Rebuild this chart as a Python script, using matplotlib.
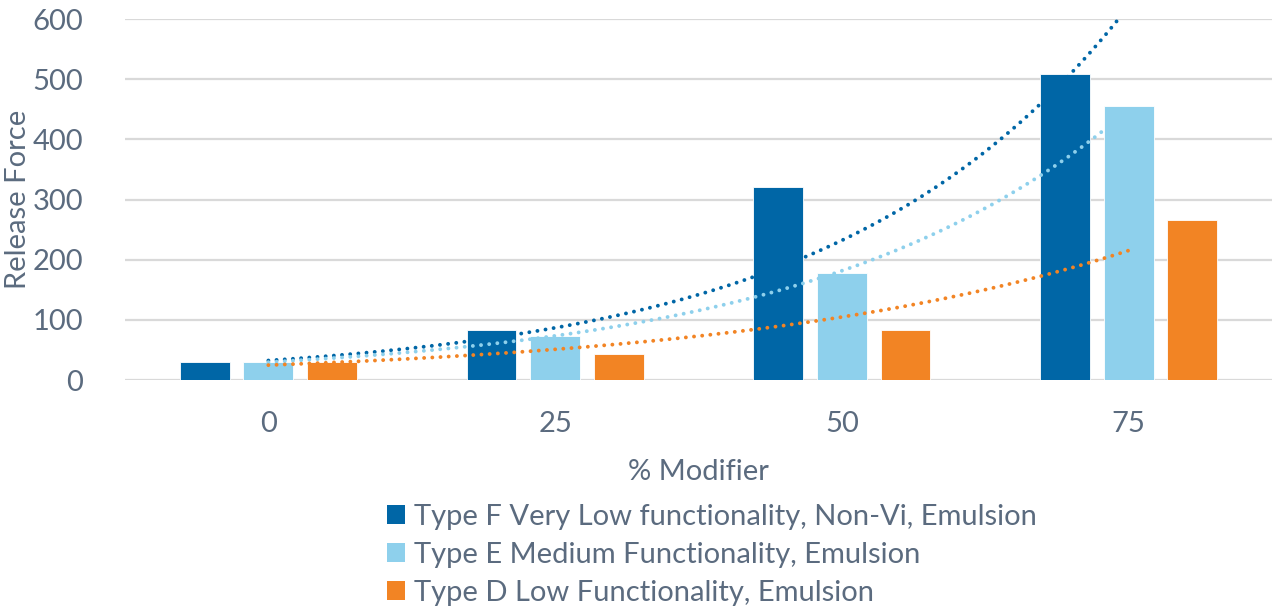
import numpy as np
import matplotlib
matplotlib.use('Agg')
import matplotlib.pyplot as plt
from matplotlib.patches import Patch

# % modifier levels and measured release force per emulsion type
modifier = ['0', '25', '50', '75']
type_f = [30, 83, 320, 509]
type_e = [30, 73, 178, 456]
type_d = [30, 43, 83, 266]
labels = ['Type F Very Low functionality, Non-Vi, Emulsion',
          'Type E Medium Functionality, Emulsion',
          'Type D Low Functionality, Emulsion']
colors = ['#0066A6', '#8ED0EC', '#F28424']

txt = '#5B6B7F'
fs = 21
plt.rcParams['font.family'] = ['Lato', 'DejaVu Sans']

fig = plt.figure(figsize=(12.78, 6.10), dpi=100)
ax = fig.add_axes([0.0978, 0.377, 0.8975, 0.5918])

x = np.arange(len(modifier))
width = 0.174
step = 0.222
series = [type_f, type_e, type_d]
for i, (vals, col) in enumerate(zip(series, colors)):
    ax.bar(x + (i - 1) * step, vals, width, color=col, zorder=2,
           edgecolor='white', linewidth=0.6)

# exponential trendlines (least squares on log y), drawn over the bars
xs = np.linspace(0, 3, 200)
for vals, col in zip(series, colors):
    b, a = np.polyfit(x, np.log(vals), 1)
    ax.plot(xs, np.exp(a + b * xs), color=col, lw=2.8,
            linestyle=(0, (0.01, 2.1)), dash_capstyle='round', zorder=3)

ax.set_xlim(-0.5, 3.5)
ax.set_ylim(0, 600)
ax.set_yticks(range(0, 601, 100))
ax.set_xticks(x)
ax.set_xticklabels(modifier)
ax.grid(axis='y', color='#D9D9D9', lw=1.6, zorder=0)
ax.set_axisbelow(True)
for s in ax.spines.values():
    s.set_visible(False)
ax.tick_params(length=0, labelsize=fs, colors=txt)
ax.tick_params(axis='y', pad=30)
ax.tick_params(axis='x', pad=22)
ax.set_xlabel('% Modifier', fontsize=fs, color=txt, labelpad=16)
ax.set_ylabel('Release Force', fontsize=fs, color=txt)
ax.yaxis.set_label_coords(-0.082, 0.5)

handles = [Patch(facecolor=c, edgecolor='none') for c in colors]
fig.legend(handles, labels, loc='upper left', bbox_to_anchor=(0.303, 0.1745),
           frameon=False, fontsize=fs, labelcolor=txt, handlelength=0.62,
           handleheight=0.62, handletextpad=0.3, labelspacing=0.42,
           borderpad=0, borderaxespad=0)

fig.savefig('out.png', dpi=100)
